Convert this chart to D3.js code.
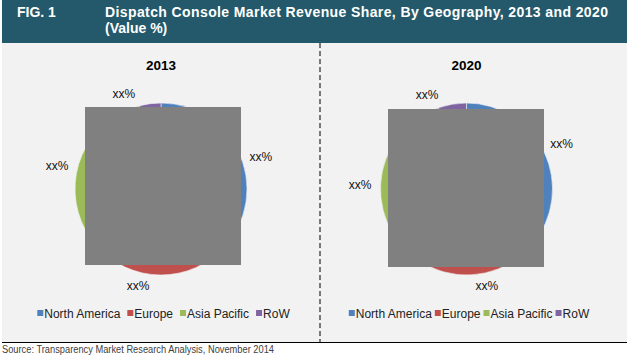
<!DOCTYPE html>
<html><head><meta charset="utf-8">
<script src="https://cdn.jsdelivr.net/npm/d3@7"></script>
<style>html,body{margin:0;padding:0;background:#fff;}svg{display:block;font-family:"Liberation Sans",Arial,sans-serif;}</style>
</head><body>
<script>
// ---- data ----
const categories = ["North America", "Europe", "Asia Pacific", "RoW"];
const years = ["2013", "2020"];
const share2013 = [40, 27, 29, 4];
const share2020 = [36, 21, 37.7, 5.3];
const labelText = ["xx%", "xx%", "xx%", "xx%"];
const colors = ["#4f81bd", "#c0504d", "#9bbb59", "#8064a2"];

// ---- layout ----
const W = 627, H = 357;
const svg = d3.select("body").append("svg").attr("width", W).attr("height", H);

svg.append("rect").attr("x", 0).attr("y", 0).attr("width", W).attr("height", H).attr("fill", "#ffffff");
svg.append("rect").attr("x", 2).attr("y", 42).attr("width", W - 2).attr("height", 300).attr("fill", "#f2f2f2");
svg.append("rect").attr("x", 2).attr("y", 0).attr("width", W - 2).attr("height", 43).attr("fill", "#23596a");

svg.append("text").attr("x", 17).attr("y", 17).attr("fill", "#fff")
  .attr("font-weight", "bold").attr("font-size", 14).text("FIG. 1");
svg.append("text").attr("x", 105).attr("y", 17).attr("fill", "#fff")
  .attr("font-weight", "bold").attr("font-size", 14)
  .attr("textLength", 503).attr("lengthAdjust", "spacing")
  .text("Dispatch Console Market Revenue Share, By Geography, 2013 and 2020");
svg.append("text").attr("x", 105).attr("y", 33).attr("fill", "#fff")
  .attr("font-weight", "bold").attr("font-size", 14).text("(Value %)");

// divider
svg.append("line").attr("x1", 320).attr("x2", 320).attr("y1", 43).attr("y2", 342)
  .attr("stroke", "#000").attr("stroke-width", 1).attr("stroke-dasharray", "5,3");
// bottom rule
svg.append("line").attr("x1", 2).attr("x2", W).attr("y1", 342.5).attr("y2", 342.5)
  .attr("stroke", "#000").attr("stroke-width", 1);
svg.append("text").attr("x", 2).attr("y", 353).attr("fill", "#404040").attr("font-size", 10)
  .attr("textLength", 272).attr("lengthAdjust", "spacingAndGlyphs")
  .text("Source: Transparency Market Research Analysis, November 2014");

const panels = [
  {year: years[0], data: share2013, cx: 161, cy: 189, r: 86,
   cover: [-76, -82, 156, 158],
   nudge: [[0, 0], [0, -5.5], [-7.5, 18.5], [-24, 9]],
   legendGap: 7, legendCx: 163.5},
  {year: years[1], data: share2020, cx: 466.5, cy: 189, r: 86,
   cover: [-78.5, -80, 156, 158],
   nudge: [[0, 0], [-2.5, -5.5], [-1.5, 1.5], [-22, 9.5]],
   legendGap: 3, legendCx: 469}
];

const pie = d3.pie().sort(null).value(d => d.v).startAngle(0).endAngle(2 * Math.PI);
const labelR = 105;

panels.forEach(p => {
  const g = svg.append("g").attr("transform", `translate(${p.cx},${p.cy})`);
  const arcs = pie(p.data.map((v, i) => ({v, i})));
  const arc = d3.arc().innerRadius(0).outerRadius(p.r);
  g.selectAll("path").data(arcs).join("path")
    .attr("d", arc).attr("fill", d => colors[d.data.i])
    .attr("stroke", "#f2f2f2").attr("stroke-width", 0.6);

  // overlay box
  g.append("rect").attr("x", p.cover[0]).attr("y", p.cover[1])
    .attr("width", p.cover[2]).attr("height", p.cover[3]).attr("fill", "#808080");

  // labels
  g.selectAll("text.lbl").data(arcs).join("text").attr("class", "lbl")
    .attr("x", d => Math.sin((d.startAngle + d.endAngle) / 2) * labelR + p.nudge[d.data.i][0])
    .attr("y", d => -Math.cos((d.startAngle + d.endAngle) / 2) * labelR + p.nudge[d.data.i][1])
    .attr("text-anchor", "middle").attr("dominant-baseline", "central")
    .attr("font-size", 12).attr("fill", "#111")
    .text(d => labelText[d.data.i]);

  // year title
  svg.append("text").attr("x", p.cx).attr("y", 70).attr("text-anchor", "middle")
    .attr("font-weight", "bold").attr("font-size", 13.5).attr("fill", "#000").text(p.year);

  // legend
  const lg = svg.append("g");
  const items = [];
  let x = 0;
  categories.forEach((c, i) => {
    const t = lg.append("text").attr("font-size", 12).attr("fill", "#222").text(c);
    const w = t.node().getComputedTextLength();
    items.push({t, x, w, i});
    x += 7 + w + (i < categories.length - 1 ? p.legendGap : 0);
  });
  const x0 = p.legendCx - x / 2;
  items.forEach(it => {
    lg.append("rect").attr("x", x0 + it.x).attr("y", 310).attr("width", 6).attr("height", 6)
      .attr("fill", colors[it.i]);
    it.t.attr("x", x0 + it.x + 7).attr("y", 317.5);
  });
});
</script>
</body></html>
